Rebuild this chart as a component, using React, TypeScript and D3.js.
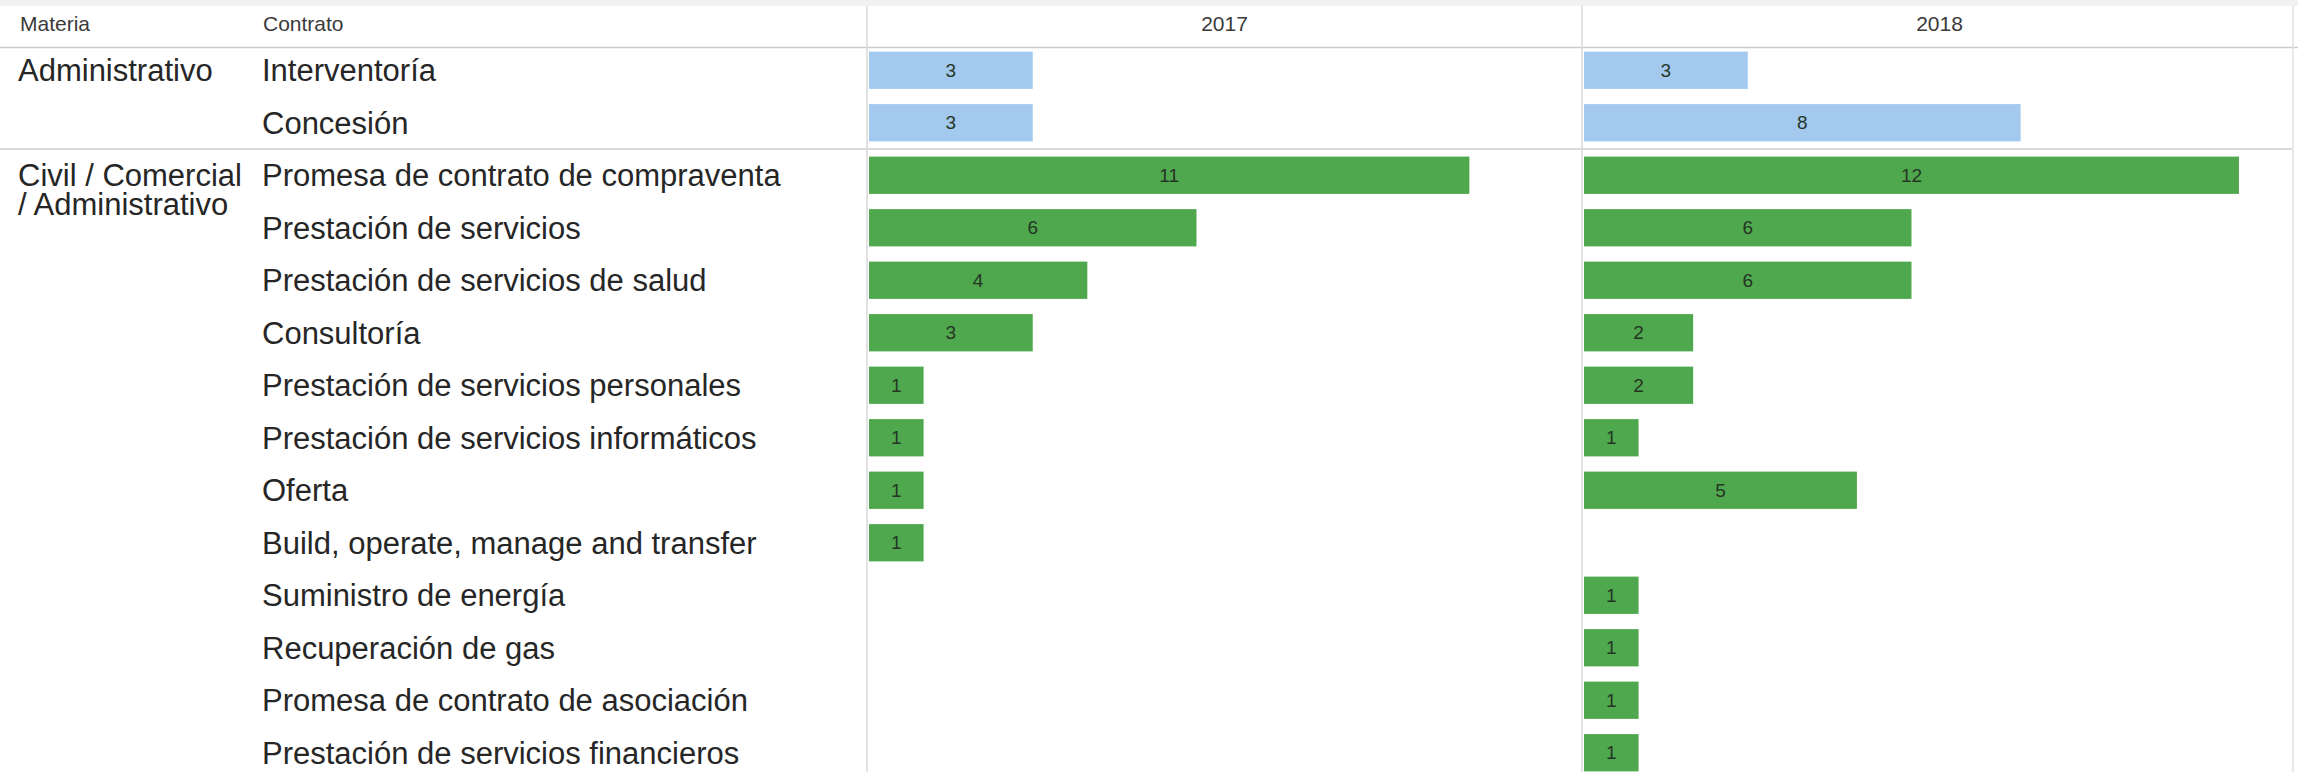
import React from "react";
import * as d3 from "d3";

const materias = ["Administrativo", "Civil / Comercial|/ Administrativo"];
const contracts = [
  "Interventoría",
  "Concesión",
  "Promesa de contrato de compraventa",
  "Prestación de servicios",
  "Prestación de servicios de salud",
  "Consultoría",
  "Prestación de servicios personales",
  "Prestación de servicios informáticos",
  "Oferta",
  "Build, operate, manage and transfer",
  "Suministro de energía",
  "Recuperación de gas",
  "Promesa de contrato de asociación",
  "Prestación de servicios financieros",
];
const contractMateria = [0, 0, 1, 1, 1, 1, 1, 1, 1, 1, 1, 1, 1, 1];
const years = ["2017", "2018"];
const values2017: (number | null)[] = [3, 3, 11, 6, 4, 3, 1, 1, 1, 1, null, null, null, null];
const values2018: (number | null)[] = [3, 8, 12, 6, 6, 2, 2, 1, 5, null, 1, 1, 1, 1];
const seriesByYear = [values2017, values2018];
const materiaColors = ["#a3caee", "#4fa84d"];

const W = 2298;
const H = 772;
const FONT = "'Liberation Sans', Arial, sans-serif";

export default function App() {
  const y = d3
    .scaleBand<string>()
    .domain(contracts)
    .range([44, 44 + contracts.length * 52.5])
    .paddingInner(0.29)
    .paddingOuter(0.145);
  const panel = d3.scaleBand<string>().domain(years).range([867, 867 + 2 * 715]);
  const x = d3.scaleLinear().domain([0, 13.1]).range([0, 715]);

  const groupStart = materias.map((_, gi) => contractMateria.indexOf(gi));
  const step = y.step();
  const rowTop = (i: number) => 44 + i * step;

  return (
    <svg
      width={W}
      height={H}
      style={{ position: "absolute", left: 0, top: 0, background: "#fff" }}
      fontFamily={FONT}
    >
      <rect x={0} y={0} width={W} height={6} fill="#f1f1f1" />
      {/* header */}
      <text x={20} y={31} fontSize={21} fill="#3a3a3a">Materia</text>
      <text x={263} y={31} fontSize={21} fill="#3a3a3a">Contrato</text>
      {years.map((yr) => (
        <text key={yr} x={panel(yr)! + panel.bandwidth() / 2} y={31} fontSize={21} fill="#3a3a3a" textAnchor="middle">
          {yr}
        </text>
      ))}
      <line x1={0} x2={W} y1={47.5} y2={47.5} stroke="#c9c9c9" strokeWidth={1.5} />
      {/* group separators */}
      {groupStart.slice(1).map((gi, k) => (
        <line key={k} x1={0} x2={W - 6} y1={rowTop(gi)} y2={rowTop(gi)} stroke="#cfcfcf" strokeWidth={1.5} />
      ))}
      {/* panel vertical lines */}
      {years.map((yr) => (
        <line key={yr} x1={panel(yr)!} x2={panel(yr)!} y1={6} y2={H} stroke="#d9d9d9" strokeWidth={1.5} />
      ))}
      <line x1={W - 5} x2={W - 5} y1={6} y2={H} stroke="#e2e2e2" strokeWidth={1.5} />
      {/* materia labels */}
      {materias.map((m, gi) => {
        const lines = m.split("|");
        const cy = y(contracts[groupStart[gi]])! + y.bandwidth() / 2;
        return lines.map((l, li) => (
          <text key={m + li} x={18} y={cy + 11 + li * 29} fontSize={31} fill="#262626">
            {l}
          </text>
        ));
      })}
      {/* contract labels */}
      {contracts.map((c) => (
        <text key={c} x={262} y={y(c)! + y.bandwidth() / 2 + 11} fontSize={31} fill="#262626">
          {c}
        </text>
      ))}
      {/* bars */}
      {years.map((yr, yi) =>
        contracts.map((c, ci) => {
          const v = seriesByYear[yi][ci];
          if (v == null) return null;
          const x0 = panel(yr)! + 2;
          const w = x(v);
          return (
            <g key={yr + c}>
              <rect x={x0} y={y(c)!} width={w} height={y.bandwidth()} fill={materiaColors[contractMateria[ci]]} />
              <text
                x={x0 + w / 2}
                y={y(c)! + y.bandwidth() / 2 + 6.5}
                fontSize={19}
                fill="#253525"
                textAnchor="middle"
              >
                {v}
              </text>
            </g>
          );
        })
      )}
    </svg>
  );
}
